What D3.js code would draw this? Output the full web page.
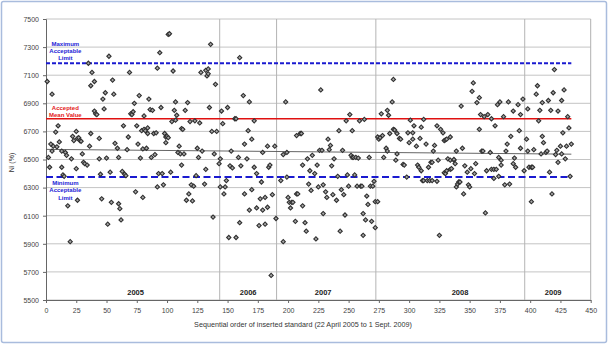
<!DOCTYPE html>
<html>
<head>
<meta charset="utf-8">
<script src="https://d3js.org/d3.v7.min.js"></script>
<style>
  body { margin: 0; background: #fff; }
  text { font-family: "Liberation Sans", Arial, sans-serif; }
</style>
</head>
<body>
<div id="chart"></div>
<script>
// [sequence number, Ni value], one array per year
const yr2005 = [[1,7055],[2,6515],[3,6445],[4,6610],[5,6965],[5,6560],[6,6595],[8,6695],[9,6590],[10,6740],
  [11,6625],[13,6560],[13,6445],[14,6390],[15,6380],[16,6550],[17,6530],[18,6170],[20,5915],[21,6505],
  [22,6665],[23,6635],[25,6700],[25,6435],[26,6650],[26,6210],[27,6655],[28,6635],[29,6630],[30,6540],
  [31,6480],[32,6470],[34,6460],[35,7185],[36,6595],[37,6685],[37,7025],[38,7120],[40,6845],[40,7055],
  [41,6825],[42,6820],[44,6650],[44,6505],[45,6395],[46,6220],[47,6930],[48,6860],[49,6975],[50,6510],
  [51,6040],[52,7235],[53,6410],[54,6195],[55,7065],[56,6965],[57,6615],[59,6580],[60,6515],[60,6185],
  [61,6150],[62,6070],[63,6415],[64,6740],[65,6395],[66,6385],[67,6570],[68,6660],[69,7120],[70,6825],
  [71,6820],[72,6840],[73,6900],[74,6270],[75,6740],[76,6610],[77,6955],[78,6510],[79,6705],[80,6575],
  [80,6230],[81,6715],[81,6810],[82,6705],[83,6580],[84,6725],[84,6685],[85,6930],[86,6855],[87,6515],
  [88,6850],[89,6685],[90,6535],[91,6690],[92,6305],[92,7150],[93,6400],[94,7260],[95,6870],[96,6400],
  [97,6320],[98,6685],[99,6660],[99,6620],[100,6665],[101,6655],[101,7390],[102,7395],[103,6410],[104,6770],
  [105,7130],[106,6850],[107,6780],[107,6910],[108,6815],[109,6550],[110,6595],[111,6540],[112,6460],[112,6720],
  [113,6715],[114,6540],[115,6850],[116,6210],[117,6905],[118,6255],[119,6770],[120,6320],[121,6205],[122,6310],
  [123,6775],[124,6385],[125,6580],[126,6515],[127,6760],[128,7120],[129,6560],[131,6325],[132,6430],[132,7135],
  [133,7095],[134,7110],[134,7145],[135,6870],[136,7320],[137,6700],[138,6090],[139,6540],[140,7035],[141,6700],
  [143,6470]];
const yr2006 = [[144,6505],[144,6305],[145,6845],[146,6755],[147,6255],[148,6305],[149,6350],[150,6870],[151,5945],[152,6455],
  [153,6560],[154,6440],[156,6790],[157,6790],[157,5945],[159,6515],[160,7225],[160,6050],[161,6455],[163,6955],
  [164,6610],[164,6255],[166,6505],[167,6705],[168,6140],[168,6910],[170,6285],[170,6645],[172,6445],[172,6775],
  [174,6155],[174,6400],[176,6030],[177,6220],[178,6340],[179,6550],[179,6140],[181,6230],[181,6040],[183,6160],
  [183,6595],[184,6445],[185,6460],[186,5675],[187,6250],[189,6595],[190,6080]];
const yr2007 = [[194,6350],[196,5915],[196,6535],[198,6910],[199,6375],[199,6550],[200,6230],[201,6195],[202,6155],[203,6195],
  [204,6195],[206,6060],[207,6670],[207,6255],[208,6255],[210,6685],[211,6685],[212,6170],[212,6460],[214,6050],
  [215,5990],[216,6505],[217,6325],[218,6420],[219,6280],[220,6530],[222,6400],[223,5935],[224,6460],[225,6305],
  [226,6565],[227,6995],[228,6565],[229,6320],[229,6115],[231,6270],[232,6230],[233,6645],[234,6570],[235,6600],
  [236,6455],[237,6250],[238,6505],[240,6210],[241,6380],[242,6705],[243,5990],[244,6285],[245,6565],[246,6250],
  [247,6105],[248,6775],[249,6390],[250,6310],[251,6820],[252,6530],[253,6515],[253,6705],[254,6515],[255,6390],
  [256,6515],[257,6310],[258,6510],[259,6775],[260,6310],[261,6310],[262,6115],[262,5960],[263,6785],[264,6070],
  [265,6240],[266,6180],[267,6515],[268,6310],[269,6060],[270,6310],[271,6345],[272,6015],[272,6200]];
const yr2008 = [[274,6200],[274,6660],[275,6645],[276,6655],[277,6825],[278,6670],[279,6515],[281,6580],[282,6560],[282,6850],
  [283,6815],[284,6685],[286,6910],[287,7070],[287,6715],[288,6710],[289,6495],[290,6685],[290,6540],[292,6650],
  [293,6645],[295,6465],[296,6460],[298,6375],[299,6690],[300,6620],[301,6780],[303,6690],[303,6645],[304,6740],
  [306,6595],[307,6460],[308,6445],[309,6650],[310,6730],[310,6420],[311,6350],[312,6350],[312,6785],[314,6610],
  [315,6350],[316,6445],[317,6350],[318,6480],[319,6350],[319,6480],[320,6560],[321,6600],[323,6740],[323,6345],
  [324,6495],[325,5960],[326,6715],[328,6690],[329,6635],[329,6405],[330,6640],[330,6400],[331,6645],[331,6420],
  [332,6505],[334,6495],[334,6660],[334,6430],[335,6435],[337,6495],[337,6500],[338,6470],[339,6305],[339,6560],
  [340,6325],[341,6340],[342,6340],[343,6880],[344,6580],[345,6255],[346,6455],[348,6410],[349,6320],[350,6305],
  [351,6435],[352,6985],[353,7045],[354,6400],[355,6470],[356,6905],[358,6715],[358,6940],[359,6820],[360,6560],
  [361,6560],[362,6805],[363,6120],[364,6420],[365,6820],[367,6550],[368,6790],[368,6430],[370,6365],[370,6430],
  [371,6740],[372,6430],[373,6890],[374,6515],[374,6380],[375,6910],[376,6495],[376,6460],[378,6805],[379,6320],
  [380,6560],[381,6610],[382,6910],[383,6325],[384,6665],[386,6845],[386,6470],[387,6510],[388,6445],[390,6890],
  [391,6705],[392,6820],[392,6580],[394,6930],[395,6420]];
const yr2009 = [[397,6645],[398,6860],[398,6560],[399,6445],[401,6200],[401,6445],[402,6445],[403,6570],[405,6965],[406,7025],
  [407,6775],[408,6850],[409,6540],[410,6905],[410,6665],[411,6620],[413,6550],[414,6560],[415,6920],[416,6410],
  [417,6850],[418,6255],[419,6975],[420,7140],[421,6535],[422,6565],[423,6480],[423,6845],[425,6595],[426,6920],
  [426,6540],[427,6690],[428,6995],[429,6505],[430,6595],[431,6805],[432,6725],[433,6380],[434,6610]];

const yearNames = ["2005", "2006", "2007", "2008", "2009"];
const yearBreaks = [143.5, 190.5, 272.5, 395.5];
const yearLabelAt = [74, 167, 229, 342, 419];
const yTicks = d3.range(5500, 7501, 200);
const xTicks = d3.range(0, 451, 25);
const maxLimit = 7185, meanValue = 6790, minLimit = 6375;
const limitEnd = 434;
const trendX = [0, 434], trendY = [6572, 6538];

const W = 608, H = 344;
const margin = { top: 19, right: 17.3, bottom: 44, left: 46 };
const width = W - margin.left - margin.right,
      height = H - margin.top - margin.bottom;

const svg = d3.select("#chart").append("svg")
    .attr("width", W).attr("height", H);

// outer frame
svg.append("rect")
    .attr("x", 1.5).attr("y", 1.5).attr("width", W - 3).attr("height", H - 3)
    .attr("rx", 2)
    .attr("fill", "#fff").attr("stroke", "#a9bcdd").attr("stroke-width", 1.5);

const g = svg.append("g").attr("transform", `translate(${margin.left},${margin.top})`);

const x = d3.scaleLinear().domain([0, 450]).range([0, width]);
const y = d3.scaleLinear().domain([5500, 7500]).range([height, 0]);

// horizontal gridlines
g.append("g").selectAll("line").data(yTicks).enter().append("line")
    .attr("x1", 0).attr("x2", width)
    .attr("y1", d => y(d)).attr("y2", d => y(d))
    .attr("stroke", "#c4c4c4").attr("stroke-width", 1);

// right edge of plot
g.append("line")
    .attr("x1", width).attr("x2", width).attr("y1", 0).attr("y2", height)
    .attr("stroke", "#b0b0b0");

// year separators
g.append("g").selectAll("line").data(yearBreaks).enter().append("line")
    .attr("x1", d => x(d)).attr("x2", d => x(d))
    .attr("y1", 0).attr("y2", height)
    .attr("stroke", "#b4b4b4").attr("stroke-width", 1);

// year labels
g.append("g").selectAll("text").data(yearNames).enter().append("text")
    .attr("x", (d, i) => x(yearLabelAt[i]))
    .attr("y", height - 5)
    .attr("text-anchor", "middle")
    .style("font-size", "7.5px").style("font-weight", "bold").style("fill", "#222")
    .text(d => d);

// axes
const yAxis = g.append("g")
    .call(d3.axisLeft(y).tickValues(yTicks).tickSize(3).tickPadding(4).tickFormat(d3.format("d")));
const xAxis = g.append("g")
    .attr("transform", `translate(0,${height})`)
    .call(d3.axisBottom(x).tickValues(xTicks).tickSize(3).tickPadding(5).tickSizeOuter(0));
[yAxis, xAxis].forEach(a => {
    a.select(".domain").attr("stroke", "#666");
    a.selectAll(".tick line").attr("stroke", "#666");
    a.selectAll("text").style("font-size", "7px").style("fill", "#444").style("font-family", "Liberation Sans, Arial, sans-serif");
});
yAxis.selectAll(".tick text").attr("dy", "0.34em");

// limit lines
g.append("line")
    .attr("x1", x(0)).attr("x2", x(limitEnd))
    .attr("y1", y(maxLimit)).attr("y2", y(maxLimit))
    .attr("stroke", "#1a1ad0").attr("stroke-width", 2).attr("stroke-dasharray", "4,2");
g.append("line")
    .attr("x1", x(0)).attr("x2", x(limitEnd))
    .attr("y1", y(minLimit)).attr("y2", y(minLimit))
    .attr("stroke", "#1a1ad0").attr("stroke-width", 2).attr("stroke-dasharray", "7,3.5");
g.append("line")
    .attr("x1", x(0)).attr("x2", x(limitEnd))
    .attr("y1", y(meanValue)).attr("y2", y(meanValue))
    .attr("stroke", "#e01010").attr("stroke-width", 1.6);

// trend line
g.append("line")
    .attr("x1", x(trendX[0])).attr("x2", x(trendX[1]))
    .attr("y1", y(trendY[0])).attr("y2", y(trendY[1]))
    .attr("stroke", "#555").attr("stroke-width", 0.9);

// points
const allPoints = [].concat(yr2005, yr2006, yr2007, yr2008, yr2009);
g.append("g").selectAll("path").data(allPoints).enter().append("path")
    .attr("d", d3.symbol().type(d3.symbolSquare).size(9))
    .attr("transform", d => `translate(${x(d[0])},${y(d[1])}) rotate(45)`)
    .attr("fill", "#a8a8a8").attr("stroke", "#303030").attr("stroke-width", 1.1);

// labels for limit lines
function noteLines(lines, yBase, color) {
    g.append("text")
        .attr("x", x(16)).attr("y", yBase)
        .attr("text-anchor", "middle")
        .style("font-size", "6px").style("font-weight", "bold").style("fill", color)
        .selectAll("tspan").data(lines).enter().append("tspan")
        .attr("x", x(16)).attr("dy", (d, i) => i === 0 ? 0 : 7.3)
        .text(d => d);
}
noteLines(["Maximum", "Acceptable", "Limit"], y(maxLimit) - 17.5, "#2323d6");
noteLines(["Accepted", "Mean Value"], y(meanValue) - 9, "#e32020");
noteLines(["Minimum", "Acceptable", "Limit"], y(minLimit) + 8, "#2323d6");

// axis titles
svg.append("text")
    .attr("x", 303).attr("y", 327)
    .attr("text-anchor", "middle")
    .style("font-size", "7.2px").style("fill", "#333")
    .text("Sequential order of inserted standard (22 April 2005 to 1 Sept. 2009)");

svg.append("text")
    .attr("transform", `translate(14,${margin.top + height / 2 + 3}) rotate(-90)`)
    .attr("text-anchor", "middle")
    .style("font-size", "7px").style("fill", "#333")
    .text("Ni (%)");
</script>
</body>
</html>
